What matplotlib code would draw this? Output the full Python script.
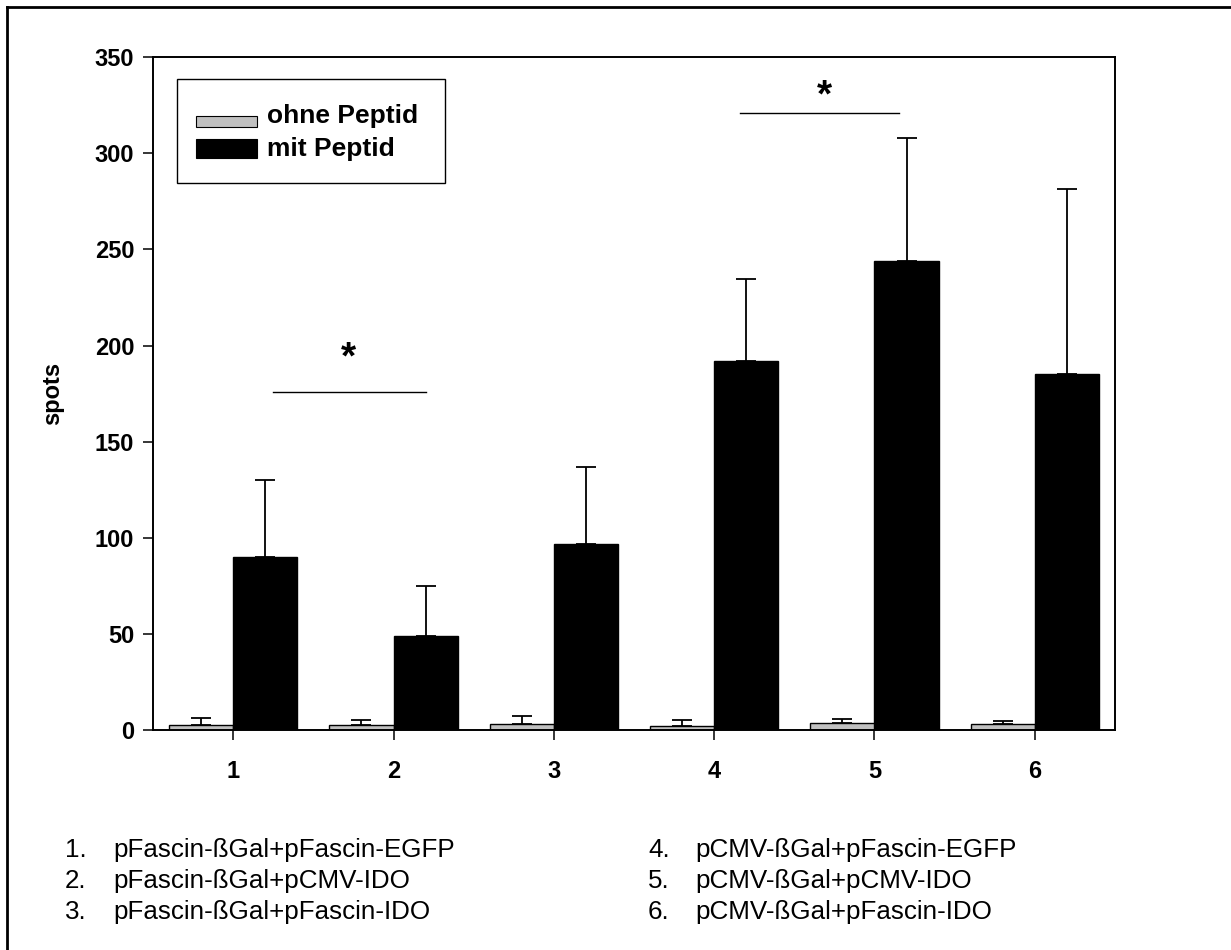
import numpy as np
import matplotlib
matplotlib.use("Agg")
import matplotlib.pyplot as plt
from matplotlib.patches import Rectangle
from matplotlib.lines import Line2D

plt.rcParams['font.family'] = ['Liberation Sans', 'DejaVu Sans']

groups = [1, 2, 3, 4, 5, 6]
ohne_mean = [2.8, 2.8, 3.1, 2.2, 3.5, 3.3]
ohne_err = [3.6, 2.2, 4.3, 2.8, 2.2, 1.4]
mit_mean = [90, 49, 97, 192, 244, 185]
mit_err = [40, 26, 40, 42.5, 64, 96.5]
series_labels = ["ohne Peptid", "mit Peptid"]
yticks = [0, 50, 100, 150, 200, 250, 300, 350]
sig_pairs = [(1.25, 2.2, 176), (4.16, 5.15, 321)]
sig_star = [(1.72, 188), (4.69, 324.5)]
notes_left = ["1.\tpFascin-ßGal+pFascin-EGFP", "2.\tpFascin-ßGal+pCMV-IDO", "3.\tpFascin-ßGal+pFascin-IDO"]
notes_right = ["4.\tpCMV-ßGal+pFascin-EGFP", "5.\tpCMV-ßGal+pCMV-IDO", "6.\tpCMV-ßGal+pFascin-IDO"]

W, H = 1231, 950
fig = plt.figure(figsize=(W / 100, H / 100), dpi=100)
fig.patch.set_facecolor('white')

def fx(px):
    return px / W

def fy(py):
    return 1 - py / H

ax_l, ax_r, ax_t, ax_b = 153, 1115, 57.3, 730
ax = fig.add_axes([fx(ax_l), fy(ax_b), (ax_r - ax_l) / W, (ax_b - ax_t) / H])

x = np.array(groups, dtype=float)
bw = 0.4
gray = '#c0c0c0'
ax.bar(x - bw / 2, ohne_mean, width=bw, color=gray, edgecolor='black', linewidth=1.0, zorder=2)
ax.bar(x + bw / 2, mit_mean, width=bw, color='black', edgecolor='black', linewidth=1.0, zorder=2)
ax.errorbar(x - bw / 2, ohne_mean, yerr=[np.zeros(6), ohne_err], fmt='none', ecolor='black',
            elinewidth=1.3, capsize=7, capthick=1.3, zorder=3)
ax.errorbar(x + bw / 2, mit_mean, yerr=[np.zeros(6), mit_err], fmt='none', ecolor='black',
            elinewidth=1.3, capsize=7, capthick=1.3, zorder=1)

ax.set_xlim(0.5, 6.5)
ax.set_ylim(0, 350)
ax.set_yticks(yticks)
ax.set_xticks(groups)
ax.set_xticklabels([str(g) for g in groups])
for s in ax.spines.values():
    s.set_linewidth(1.4)
ax.tick_params(axis='both', direction='out', length=7.5, width=1.1, labelsize=17)
ax.tick_params(axis='x', pad=14)
ax.tick_params(axis='y', pad=6)
for lab in ax.get_xticklabels() + ax.get_yticklabels():
    lab.set_fontweight('bold')
ax.set_ylabel('spots', fontsize=17, fontweight='bold', labelpad=22)

for (x0, x1, yv), (sx, sy) in zip(sig_pairs, sig_star):
    ax.plot([x0, x1], [yv, yv], color='black', lw=1.0, zorder=4)
    ax.text(sx, sy, '*', fontsize=28, fontweight='bold', ha='center', va='baseline')

# legend (manual)
bx0, by0, bx1, by1 = 177, 79, 445, 183
fig.add_artist(Rectangle((fx(bx0), fy(by1)), fx(bx1) - fx(bx0), fy(by0) - fy(by1),
                         transform=fig.transFigure, facecolor='white', edgecolor='black', lw=1.0, zorder=5))
# (top, bottom, colour, text baseline)
rows = [(116, 127, gray, 123.5), (139, 158, 'black', 156)]
for (t, b, col, base), lab in zip(rows, series_labels):
    fig.add_artist(Rectangle((fx(196), fy(b)), fx(257) - fx(196), (b - t) / H,
                             transform=fig.transFigure, facecolor=col, edgecolor='black', lw=0.8, zorder=6))
    fig.text(fx(267), fy(base), lab, fontsize=19, fontweight='bold', ha='left', va='baseline', zorder=7)

# notes below
base_y = [857, 888, 919]
for by, t in zip(base_y, notes_left):
    num, txt = t.split('\t')
    fig.text(fx(65), fy(by), num, fontsize=18.7, ha='left', va='baseline')
    fig.text(fx(113), fy(by), txt, fontsize=18.7, ha='left', va='baseline')
for by, t in zip(base_y, notes_right):
    num, txt = t.split('\t')
    fig.text(fx(648), fy(by), num, fontsize=18.7, ha='left', va='baseline')
    fig.text(fx(695), fy(by), txt, fontsize=18.7, ha='left', va='baseline')

# outer frame (top and left)
fig.add_artist(Line2D([fx(7.3), 1], [fy(7.3), fy(7.3)], transform=fig.transFigure, color='black', lw=2.0))
fig.add_artist(Line2D([fx(7.3), fx(7.3)], [fy(7.3), 0], transform=fig.transFigure, color='black', lw=2.0))

fig.savefig('out.png', dpi=100)
